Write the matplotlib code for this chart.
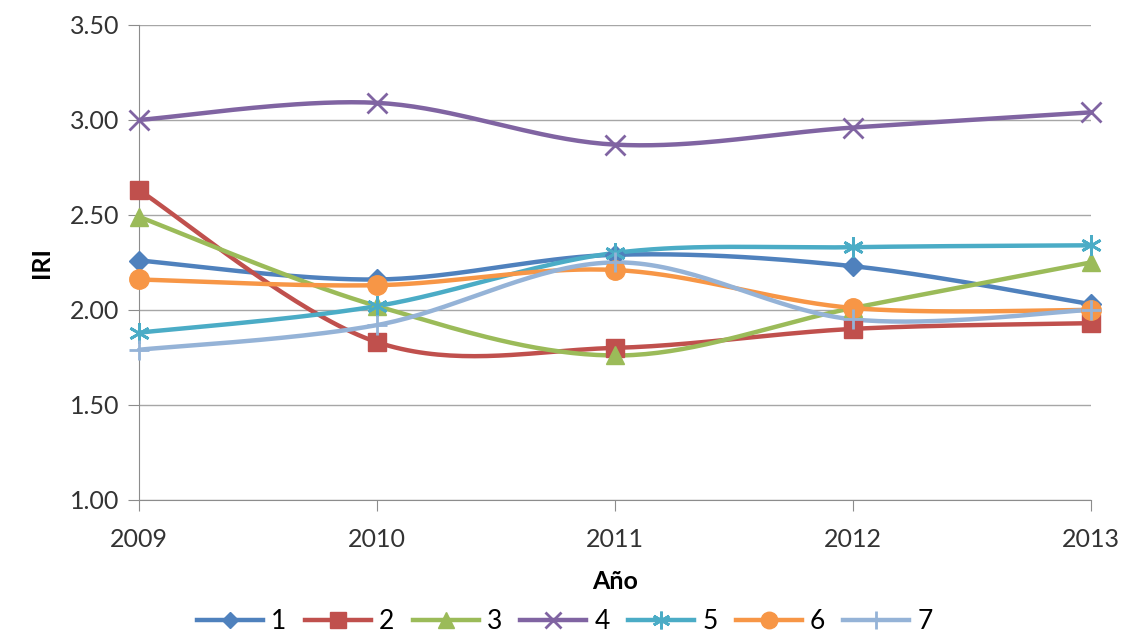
import numpy as np
import matplotlib.pyplot as plt

years = [2009, 2010, 2011, 2012, 2013]
series_names = ['1', '2', '3', '4', '5', '6', '7']
s1 = [2.26, 2.16, 2.29, 2.23, 2.03]
s2 = [2.63, 1.83, 1.80, 1.90, 1.93]
s3 = [2.49, 2.02, 1.76, 2.01, 2.25]
s4 = [3.00, 3.09, 2.87, 2.96, 3.04]
s5 = [1.88, 2.02, 2.30, 2.33, 2.34]
s6 = [2.16, 2.13, 2.21, 2.01, 2.00]
s7 = [1.79, 1.92, 2.25, 1.95, 2.00]
all_series = [s1, s2, s3, s4, s5, s6, s7]

colors = ['#4F81BD', '#C0504D', '#9BBB59', '#8064A2', '#4BACC6', '#F79646', '#95B3D7']
markers = ['D', 's', '^', 'x', (6, 2, 0), 'o', '+']
msizes = [10, 13, 13, 14, 15, 14, 15]

plt.rcParams['font.family'] = ['Lato', 'DejaVu Sans']


def smooth(x, y, n=40):
    # cubic bezier through the points, control points from neighbours (catmull-rom)
    x = np.asarray(x, float)
    y = np.asarray(y, float)
    px = np.concatenate([[x[0]], x, [x[-1]]])
    py = np.concatenate([[y[0]], y, [y[-1]]])
    xs, ys = [], []
    t = np.linspace(0, 1, n)
    for i in range(1, len(px) - 2):
        p0 = np.array([px[i], py[i]])
        p3 = np.array([px[i + 1], py[i + 1]])
        c1 = p0 + (p3 - np.array([px[i - 1], py[i - 1]])) / 6
        c2 = p3 - (np.array([px[i + 2], py[i + 2]]) - p0) / 6
        b = ((1 - t) ** 3)[:, None] * p0 + (3 * (1 - t) ** 2 * t)[:, None] * c1 \
            + (3 * (1 - t) * t ** 2)[:, None] * c2 + (t ** 3)[:, None] * p3
        xs.extend(b[:, 0])
        ys.extend(b[:, 1])
    return xs, ys


fig = plt.figure(figsize=(11.3, 6.4), dpi=100)
ax = fig.add_axes([0.123, 0.219, 0.8425, 0.742])

for name, vals, c, m, ms in zip(series_names, all_series, colors, markers, msizes):
    mw = 2 if m in ('x', '+') or isinstance(m, tuple) else 1
    sx, sy = smooth(years, vals)
    ax.plot(sx, sy, color=c, lw=3.2, solid_capstyle='round', zorder=2, clip_on=False)
    ax.plot(years, vals, linestyle='none', marker=m, ms=ms, color=c, mew=mw,
            zorder=3, clip_on=False)
    ax.plot([], [], color=c, lw=3.2, marker=m, ms=ms * 0.85, mew=mw, label=name)

ax.set_xlim(2009, 2013)
ax.set_ylim(1.0, 3.5)
ax.set_xticks(years)
ax.set_yticks(np.arange(1.0, 3.51, 0.5))
ax.yaxis.set_major_formatter(plt.FuncFormatter(lambda v, p: f'{v:.2f}'))
ax.grid(axis='y', color='#a6a6a6', lw=1)
ax.set_axisbelow(True)
for sp in ['top', 'right']:
    ax.spines[sp].set_visible(False)
ax.spines['left'].set_color('#8c8c8c')
ax.spines['bottom'].set_color('#8c8c8c')
ax.tick_params(axis='both', labelsize=18, colors='#8c8c8c', labelcolor='#333333', length=8)
ax.tick_params(axis='x', pad=12)
ax.tick_params(axis='y', pad=6)
ax.set_xlabel('Año', fontsize=18, fontweight='bold', labelpad=14)
ax.set_ylabel('IRI', fontsize=18, fontweight='bold', labelpad=12)

fig.legend(loc='lower center', ncol=7, frameon=False, fontsize=19,
           bbox_to_anchor=(0.5, -0.028), handlelength=2.5, columnspacing=0.7,
           handletextpad=0.3)

fig.savefig('out.png', dpi=100)
